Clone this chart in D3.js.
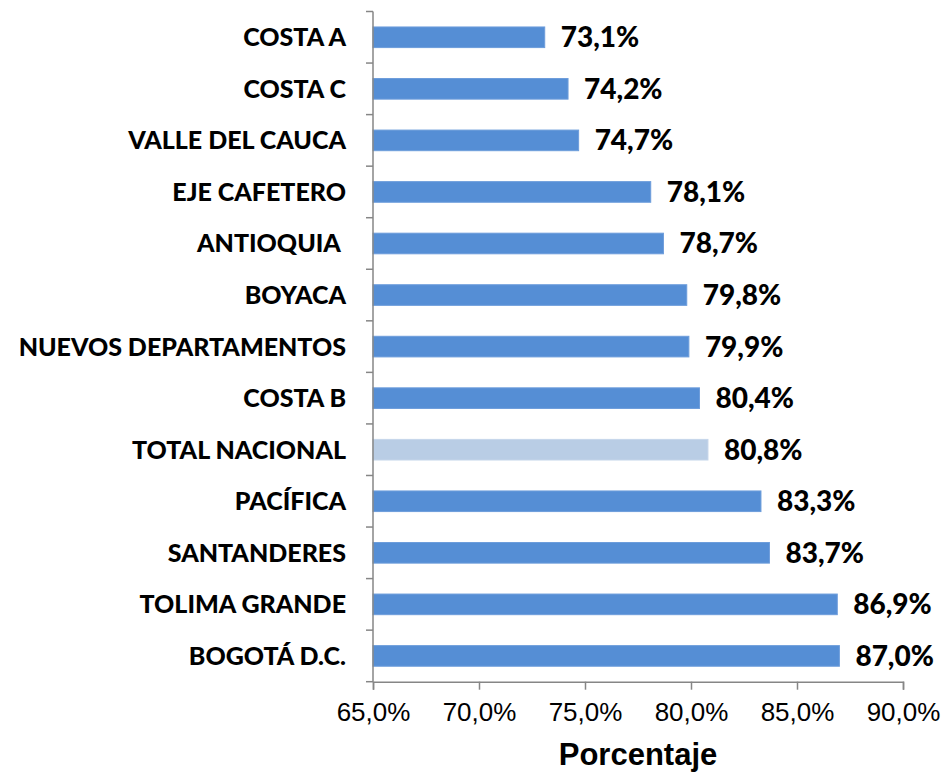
<!DOCTYPE html>
<html lang="es">
<head>
<meta charset="UTF-8">
<script src="https://cdn.jsdelivr.net/npm/d3@7"></script>
<style>
  body { margin: 0; background: #fff; }
</style>
</head>
<body>
<div id="chart"></div>
<script>
  // data
  var regiones = ["COSTA A", "COSTA C", "VALLE DEL CAUCA", "EJE CAFETERO", "ANTIOQUIA ",
    "BOYACA", "NUEVOS DEPARTAMENTOS", "COSTA B", "TOTAL NACIONAL", "PACÍFICA",
    "SANTANDERES", "TOLIMA GRANDE", "BOGOTÁ D.C."];
  var porcentajes = [73.1, 74.2, 74.7, 78.1, 78.7, 79.8, 79.9, 80.4, 80.8, 83.3, 83.7, 86.9, 87.0];
  var ticksX = [65, 70, 75, 80, 85, 90];
  var destacado = "TOTAL NACIONAL";

  var width = 944, height = 772;
  var margin = { top: 11.5, right: 41, bottom: 90.3, left: 373 };

  var svg = d3.select("#chart").append("svg")
      .attr("width", width)
      .attr("height", height);

  var fmt = function (v) { return v.toFixed(1).replace(".", ",") + "%"; };

  var x = d3.scaleLinear()
      .domain([65, 90])
      .range([margin.left, width - margin.right]);

  var y = d3.scaleBand()
      .domain(regiones)
      .range([margin.top, height - margin.bottom])
      .paddingInner(0.6)
      .paddingOuter(0.3);

  var data = regiones.map(function (r, i) { return { region: r, valor: porcentajes[i] }; });

  // bars
  svg.selectAll("rect.bar")
      .data(data)
      .enter()
      .append("rect")
      .attr("class", "bar")
      .attr("x", x(65))
      .attr("y", function (d) { return y(d.region); })
      .attr("width", function (d) { return x(d.valor) - x(65); })
      .attr("height", y.bandwidth())
      .attr("fill", function (d) { return d.region === destacado ? "#B9CDE5" : "#558ED5"; })
      .attr("stroke", function (d) { return d.region === destacado ? "#C6D6EA" : "#6D9DDB"; })
      .attr("stroke-width", 1);

  // value labels
  svg.selectAll("text.valor")
      .data(data)
      .enter()
      .append("text")
      .attr("class", "valor")
      .attr("x", function (d) { return x(d.valor) + 16; })
      .attr("y", function (d) { return y(d.region) + y.bandwidth() / 2 + 10; })
      .attr("font-family", "Lato, 'Open Sans', sans-serif")
      .attr("font-weight", "900")
      .attr("font-size", "28px")
      .attr("fill", "#000")
      .text(function (d) { return fmt(d.valor); });

  // y axis (category boundaries as ticks)
  var yAxis = svg.append("g").attr("class", "y-axis");
  var bandStep = y.step();
  var bounds = d3.range(regiones.length + 1).map(function (i) {
    return y(regiones[0]) - y.paddingInner() * bandStep / 2 + i * bandStep;
  });
  yAxis.append("line")
      .attr("x1", x(65)).attr("x2", x(65))
      .attr("y1", bounds[0]).attr("y2", bounds[bounds.length - 1])
      .attr("stroke", "#868686").attr("stroke-width", 1.5);
  yAxis.selectAll("line.tick")
      .data(bounds)
      .enter()
      .append("line")
      .attr("class", "tick")
      .attr("x1", x(65) - 7).attr("x2", x(65))
      .attr("y1", function (d) { return d; })
      .attr("y2", function (d) { return d; })
      .attr("stroke", "#868686").attr("stroke-width", 1.5);

  yAxis.selectAll("text")
      .data(data)
      .enter()
      .append("text")
      .attr("x", 346)
      .attr("y", function (d) { return y(d.region) + y.bandwidth() / 2 + 9; })
      .attr("text-anchor", "end")
      .attr("font-family", "Lato, 'Open Sans', sans-serif")
      .attr("font-weight", "900")
      .attr("font-size", "25px")
      .attr("fill", "#000")
      .style("white-space", "pre")
      .text(function (d) { return d.region; });

  // x axis
  var axisY = bounds[bounds.length - 1];
  var xAxis = svg.append("g")
      .attr("transform", "translate(0," + axisY + ")")
      .call(d3.axisBottom(x)
        .tickValues(ticksX)
        .tickSize(8)
        .tickFormat(fmt));
  xAxis.select(".domain").attr("stroke", "#868686").attr("stroke-width", 1.5);
  xAxis.selectAll(".tick line").attr("stroke", "#868686").attr("stroke-width", 1.5);
  xAxis.selectAll(".tick text")
      .attr("y", 21)
      .attr("dy", "0.71em")
      .attr("font-family", "'Liberation Sans Narrow', 'Arial Narrow', 'Liberation Sans', sans-serif")
      .attr("font-size", "26px")
      .attr("fill", "#000");

  // axis title
  svg.append("text")
      .attr("x", (x(65) + x(90)) / 2)
      .attr("y", 765)
      .attr("text-anchor", "middle")
      .attr("font-family", "'Liberation Sans', Arial, sans-serif")
      .attr("font-weight", "bold")
      .attr("font-size", "31px")
      .attr("fill", "#000")
      .text("Porcentaje");
</script>
</body>
</html>
